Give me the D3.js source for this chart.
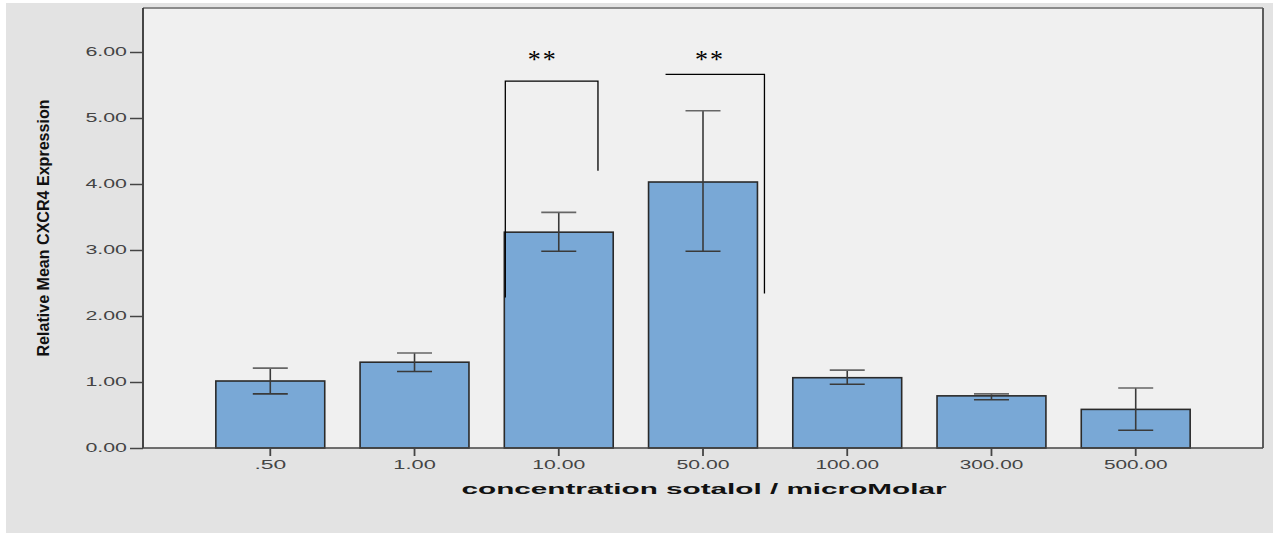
<!DOCTYPE html>
<html><head><meta charset="utf-8">
<script src="https://cdn.jsdelivr.net/npm/d3@7"></script>
<style>body{margin:0;background:#fff;}svg{display:block;}</style>
</head><body>
<svg id="c" width="1273" height="533"></svg>
<script>
const categories = [".50", "1.00", "10.00", "50.00", "100.00", "300.00", "500.00"];
const means = [1.015, 1.30, 3.27, 4.03, 1.065, 0.79, 0.585];
const errLow = [0.82, 1.16, 2.98, 2.98, 0.965, 0.73, 0.27];
const errHigh = [1.21, 1.44, 3.57, 5.11, 1.18, 0.82, 0.91];
const yTicks = [0, 1, 2, 3, 4, 5, 6];
const sigLabels = ["**", "**"];
const sigCategory = ["10.00", "50.00"];
const sigLevel = [5.56, 5.66];
const sigLeftEnd = [2.28, null];
const sigRightEnd = [4.2, 2.34];

(function(){
const svg = d3.select("#c");
const W = 1273, H = 533;
svg.append("rect").attr("x", 6).attr("y", 3).attr("width", W - 6).attr("height", H - 3).attr("fill", "#e3e3e3");

const pl = 143, pr = 1263, pt = 8, pb = 448;
svg.append("rect").attr("x", pl).attr("y", pt).attr("width", pr - pl).attr("height", pb - pt).attr("fill", "#f0f0f0");

const x = d3.scaleBand().domain(categories).range([pl, pr]).paddingInner(0.245).paddingOuter(0.505);
const y = d3.scaleLinear().domain([0, 6]).range([pb, pb - 6 * 66]);

svg.append("line").attr("x1", pl).attr("x2", pr).attr("y1", pt).attr("y2", pt).attr("stroke", "#8a8a8a").attr("stroke-width", 2);
svg.append("line").attr("x1", pr).attr("x2", pr).attr("y1", pt).attr("y2", pb).attr("stroke", "#5c5c5c").attr("stroke-width", 2);

svg.append("g").selectAll("rect").data(categories).join("rect")
  .attr("x", d => x(d)).attr("width", x.bandwidth())
  .attr("y", (d, i) => y(means[i])).attr("height", (d, i) => y(0) - y(means[i]))
  .attr("fill", "#79a8d6").attr("stroke", "#2a2a2a").attr("stroke-width", 1.6);

const eg = svg.append("g").attr("stroke", "#3a3a3a").attr("stroke-width", 1.6);
categories.forEach((c, i) => {
  const cx = x(c) + x.bandwidth() / 2, cap = 17.5;
  eg.append("line").attr("x1", cx).attr("x2", cx).attr("y1", y(errLow[i])).attr("y2", y(errHigh[i]));
  eg.append("line").attr("x1", cx - cap).attr("x2", cx + cap).attr("y1", y(errLow[i])).attr("y2", y(errLow[i]));
  eg.append("line").attr("x1", cx - cap).attr("x2", cx + cap).attr("y1", y(errHigh[i])).attr("y2", y(errHigh[i])).attr("stroke", "#666");
});

const yAxis = svg.append("g").attr("transform", `translate(${pl},0)`)
  .call(d3.axisLeft(y).tickValues(yTicks).tickSize(13).tickFormat(d3.format(".2f")));
yAxis.select(".domain").attr("stroke", "#333").attr("stroke-width", 1.8).attr("d", `M0,${pt}V${pb}`);
yAxis.selectAll(".tick line").attr("stroke", "#444").attr("stroke-width", 1.5);
yAxis.selectAll(".tick text").attr("x", -16).attr("fill", "#444")
  .style("font-family", "Liberation Sans, Arial, sans-serif").style("font-size", "12px")
  .attr("textLength", function(){ return this.textContent.length * 10.4; }).attr("lengthAdjust", "spacingAndGlyphs");

const xAxis = svg.append("g").attr("transform", `translate(0,${pb})`)
  .call(d3.axisBottom(x).tickSize(8).tickSizeOuter(0));
xAxis.select(".domain").attr("stroke", "#444").attr("stroke-width", 1.6).attr("d", `M${pl},0H${pr}`);
xAxis.selectAll(".tick line").attr("stroke", "#444").attr("stroke-width", 1.8);
xAxis.selectAll(".tick text").attr("y", 12).attr("fill", "#444")
  .style("font-family", "Liberation Sans, Arial, sans-serif").style("font-size", "12px")
  .attr("textLength", function(){ return this.textContent.length * 10.6; }).attr("lengthAdjust", "spacingAndGlyphs");

svg.append("text").attr("transform", "translate(49,228) rotate(-90)").attr("text-anchor", "middle")
  .style("font-family", "Liberation Sans Narrow, Liberation Sans, Arial, sans-serif").style("font-size", "17px")
  .style("font-weight", "bold").attr("fill", "#111")
  .attr("textLength", 257).attr("lengthAdjust", "spacingAndGlyphs")
  .text("Relative Mean CXCR4 Expression");
svg.append("text").attr("x", 704).attr("y", 494).attr("text-anchor", "middle")
  .style("font-family", "Liberation Sans, Arial, sans-serif").style("font-size", "15px")
  .style("font-weight", "bold").attr("fill", "#111")
  .attr("textLength", 485).attr("lengthAdjust", "spacingAndGlyphs")
  .text("concentration sotalol / microMolar");

const sg = svg.append("g").attr("stroke", "#000").attr("stroke-width", 1.3).attr("fill", "none");
sigCategory.forEach((c, i) => {
  const b = x(c);
  let xl, xr, d;
  if (sigLeftEnd[i] !== null) {
    xl = b + 1; xr = b + x.bandwidth() * 0.86;
    d = `M${xl},${y(sigLeftEnd[i])}V${y(sigLevel[i])}H${xr}V${y(sigRightEnd[i])}`;
  } else {
    xl = b + 17; xr = b + x.bandwidth() + 7;
    d = `M${xl},${y(sigLevel[i])}H${xr}V${y(sigRightEnd[i])}`;
  }
  sg.append("path").attr("d", d);
  svg.append("text").attr("x", (xl + xr) / 2 - (i === 0 ? 9 : 5)).attr("y", 68).attr("text-anchor", "middle")
    .style("font-family", "Liberation Serif, Times New Roman, serif").style("font-size", "26px")
    .style("letter-spacing", "2px").attr("fill", "#000").text(sigLabels[i]);
});
})();
</script>
</body></html>
